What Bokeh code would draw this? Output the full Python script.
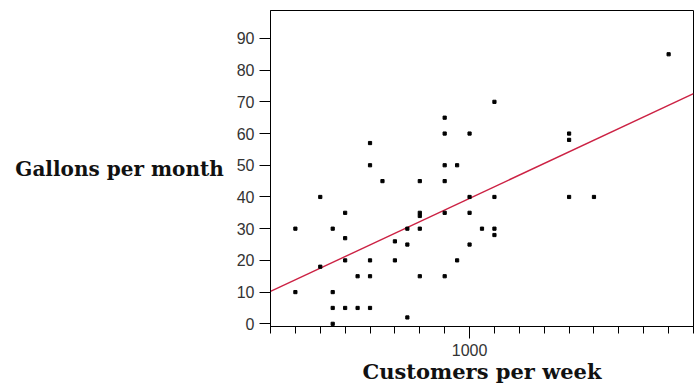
from bokeh.plotting import figure
from bokeh.models import FixedTicker, Range1d
from bokeh.embed import file_html
from bokeh.resources import INLINE

# Data
customers = [1800, 1100, 900, 900, 1000, 1400, 1400, 600, 600, 900,
             950, 650, 800, 900, 400, 1000, 1100, 1400, 1500, 500,
             800, 800, 900, 1000, 300, 450, 750, 800, 1050, 1100,
             1100, 500, 700, 750, 1000, 400, 500, 600, 700, 950,
             550, 600, 800, 900, 300, 450, 450, 500, 550, 600,
             750, 450]
gallons = [85, 70, 65, 60, 60, 60, 58, 57, 50, 50,
           50, 45, 45, 45, 40, 40, 40, 40, 40, 35,
           35, 34, 35, 35, 30, 30, 30, 30, 30, 30,
           28, 27, 26, 25, 25, 18, 20, 20, 20, 20,
           15, 15, 15, 15, 10, 10, 5, 5, 5, 5,
           2, 0]

# Fitted line (at both ends of the x range)
fit_x = [200, 1900]
fit_y = [10.2, 72.6]

y_ticks = [0, 10, 20, 30, 40, 50, 60, 70, 80, 90]
x_major_ticks = [1000]
x_minor_ticks = list(range(200, 1901, 100))

p = figure(width=694, height=388, output_backend="svg", toolbar_location=None,
           x_range=Range1d(200, 1900), y_range=Range1d(-0.85, 98.8),
           min_border_left=270, min_border_right=1, min_border_top=10,
           min_border_bottom=62)
p.background_fill_color = "white"
p.border_fill_color = "white"
p.outline_line_color = "black"
p.outline_line_width = 1
p.grid.visible = False

p.line(fit_x, fit_y, line_color="#cc2244", line_width=1.4)
p.scatter(customers, gallons, marker="square", size=3.2,
          fill_color="black", line_color="black")

xa = p.xaxis[0]
xa.ticker = FixedTicker(ticks=x_major_ticks, minor_ticks=x_minor_ticks)
xa.major_tick_in = 0
xa.major_tick_out = 12
xa.minor_tick_in = 0
xa.minor_tick_out = 7
xa.major_label_standoff = 5
xa.axis_line_color = "black"
xa.major_tick_line_color = "black"
xa.minor_tick_line_color = "black"
xa.major_label_text_font = "Liberation Sans"
xa.major_label_text_font_size = "16px"
xa.major_label_text_color = "#333333"
xa.axis_label = "Customers per week"
xa.axis_label_text_font = "DejaVu Serif"
xa.axis_label_text_font_style = "bold"
xa.axis_label_text_font_size = "21px"
xa.axis_label_text_color = "#111111"
xa.axis_label_standoff = 0

ya = p.yaxis[0]
ya.ticker = FixedTicker(ticks=y_ticks, minor_ticks=[])
ya.major_tick_in = 0
ya.major_tick_out = 11
ya.minor_tick_in = 0
ya.minor_tick_out = 0
ya.major_label_standoff = 5
ya.axis_line_color = "black"
ya.major_tick_line_color = "black"
ya.major_label_text_font = "Liberation Sans"
ya.major_label_text_font_size = "16px"
ya.major_label_text_color = "#333333"
ya.axis_label = "Gallons per month"
ya.axis_label_orientation = "horizontal"
ya.axis_label_text_font = "DejaVu Serif"
ya.axis_label_text_font_style = "bold"
ya.axis_label_text_font_size = "20px"
ya.axis_label_text_color = "#111111"
ya.axis_label_standoff = 10

open("out.html", "w").write(file_html(p, INLINE))
